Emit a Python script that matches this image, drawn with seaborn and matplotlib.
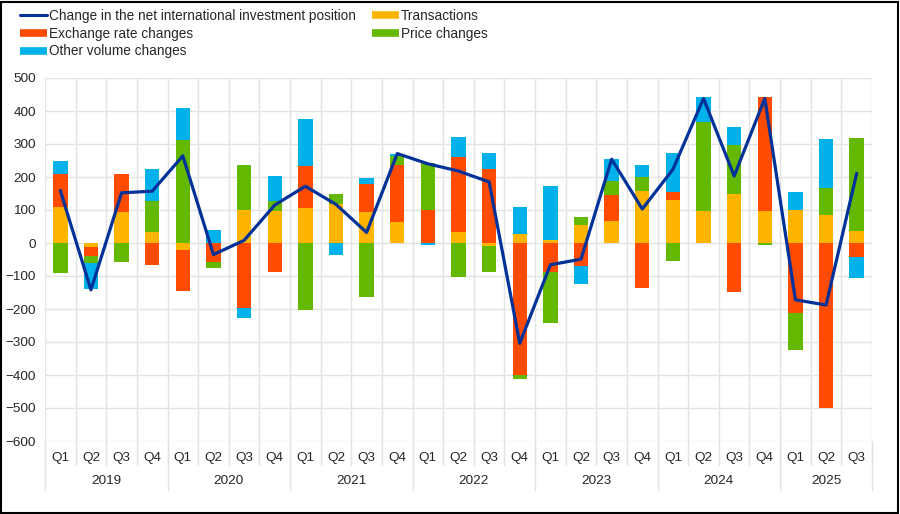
import numpy as np
import pandas as pd
import matplotlib
matplotlib.use("Agg")
import matplotlib.pyplot as plt
from matplotlib.lines import Line2D
from matplotlib.patches import Rectangle
import seaborn as sns

# ---------------- data ----------------
years = ["2019", "2020", "2021", "2022", "2023", "2024", "2025"]
quarters_per_year = [4, 4, 4, 4, 4, 4, 3]
quarter_labels = ["Q1", "Q2", "Q3", "Q4"] * 6 + ["Q1", "Q2", "Q3"]

transactions = [108, -12, 93, 32,
                -22, 0, 101, 98,
                106, 117, 93, 63,
                0, 32, -8, 28,
                10, 54, 67, 157,
                129, 98, 147, 96,
                99, 84, 35]
exchange_rate = [102, -26, 117, -66,
                 -123, -58, -198, -88,
                 127, 0, 86, 174,
                 101, 229, 223, -400,
                 -89, -69, 77, -135,
                 25, 0, -147, 345,
                 -213, -500, -43]
price_changes = [-91, -22, -58, 96,
                 311, -17, 134, 30,
                 -203, 33, -164, 26,
                 142, -103, -80, -12,
                 -152, 25, 45, 43,
                 -55, 270, 149, -5,
                 -111, 83, 283]
other_volume = [40, -79, 0, 95,
                97, 40, -28, 75,
                142, -35, 18, 6,
                -7, 60, 51, 80,
                162, -56, 65, 35,
                120, 73, 57, 2,
                55, 148, -64]
net_change = [159, -142, 152, 157,
              264, -35, 8, 115,
              172, 117, 32, 271,
              240, 218, 185, -304,
              -66, -49, 254, 103,
              223, 438, 203, 438,
              -172, -188, 211]

series_names = ["Transactions", "Exchange rate changes", "Price changes", "Other volume changes"]
series_vals = [transactions, exchange_rate, price_changes, other_volume]
colors = {"Transactions": "#FFB400",
          "Exchange rate changes": "#FF4B00",
          "Price changes": "#65B800",
          "Other volume changes": "#00B1EA"}
line_color = "#003299"
line_label = "Change in the net international investment position"

n = len(quarter_labels)
cat_ids = [f"{y}{q}" for y, k in zip(years, quarters_per_year) for q in ["Q1", "Q2", "Q3", "Q4"][:k]]

# ---------------- style ----------------
sns.set_theme(style="white")
plt.rcParams["font.family"] = ["Liberation Sans", "DejaVu Sans"]
text_color = "#262626"
grid_color = "#e3e3e3"

fig = plt.figure(figsize=(9.0, 5.14), dpi=100)
ax = fig.add_axes([45 / 900, 1 - 441 / 514, (872 - 45) / 900, (441 - 78) / 514])

# stacked bars (positive and negative stacked separately) via overlay of cumulative sums
vals = np.array(series_vals, dtype=float)
pos = np.clip(vals, 0, None)
neg = np.clip(vals, None, 0)
pos_cum = np.cumsum(pos, axis=0)
neg_cum = np.cumsum(neg, axis=0)
bar_w = 0.47
for cum in (pos_cum, neg_cum):
    for i in range(len(series_names) - 1, -1, -1):
        df = pd.DataFrame({"cat": cat_ids, "val": cum[i]})
        sns.barplot(data=df, x="cat", y="val", order=cat_ids, color=colors[series_names[i]],
                    width=bar_w, saturation=1, linewidth=0, edgecolor="none", ax=ax, zorder=2)

# line
sns.lineplot(x=np.arange(n), y=net_change, color=line_color, linewidth=2.3, ax=ax,
             legend=False, zorder=4)

# axes & grid
ax.set_xlim(-0.5, n - 0.5)
ax.set_ylim(-600, 500)
ax.set_yticks(np.arange(-600, 501, 100))
ax.set_xticks(np.arange(n))
ax.set_xticklabels(quarter_labels)
ax.set_xlabel("")
ax.set_ylabel("")
for s in ax.spines.values():
    s.set_visible(False)
ax.set_axisbelow(True)
ax.yaxis.grid(True, color=grid_color, linewidth=1.0, zorder=0)
for b in np.arange(-0.5, n, 1.0):
    ax.axvline(b, color=grid_color, linewidth=1.0, zorder=0)
ax.tick_params(axis="y", length=4, width=1.0, color=grid_color, pad=2.5,
               labelsize=9.7, labelcolor=text_color)
ax.tick_params(axis="x", length=0, pad=8, labelsize=9.7, labelcolor=text_color)

# separators below the axis
trans = ax.get_xaxis_transform()
axh = 441 - 78
q_len = 24 / axh
y_len = 49 / axh
for b in np.arange(-0.5, n, 1.0):
    ax.plot([b, b], [0, -q_len], transform=trans, color=grid_color, lw=1.0, clip_on=False, zorder=0)
start = -0.5
for yr, k in zip(years, quarters_per_year):
    ax.plot([start, start], [0, -y_len], transform=trans, color=grid_color, lw=1.0, clip_on=False, zorder=0)
    ax.text(start + k / 2, -40 / axh, yr, transform=trans, ha="center", va="center",
            fontsize=9.7, color=text_color)
    start += k
ax.plot([start, start], [0, -y_len], transform=trans, color=grid_color, lw=1.0, clip_on=False, zorder=0)

# legend
handles = [Line2D([], [], color=line_color, lw=2.2),
           Line2D([], [], color=colors["Exchange rate changes"], lw=5.5, solid_capstyle="butt"),
           Line2D([], [], color=colors["Other volume changes"], lw=5.5, solid_capstyle="butt"),
           Line2D([], [], color=colors["Transactions"], lw=5.5, solid_capstyle="butt"),
           Line2D([], [], color=colors["Price changes"], lw=5.5, solid_capstyle="butt")]
labels = [line_label, "Exchange rate changes", "Other volume changes", "Transactions", "Price changes"]
fig.legend(handles, labels, ncol=2, loc="upper left", bbox_to_anchor=(20 / 900, 1 - 9 / 514),
           frameon=False, fontsize=9.85, handlelength=1.95, handletextpad=0.15,
           columnspacing=1.2, labelspacing=0.27, borderpad=0, borderaxespad=0,
           labelcolor=text_color)

# figure border
fig.patches.append(Rectangle((0.001, 0.001), 0.997, 0.996, transform=fig.transFigure,
                             fill=False, edgecolor="black", linewidth=1.5))

fig.savefig("out.png", dpi=100)
